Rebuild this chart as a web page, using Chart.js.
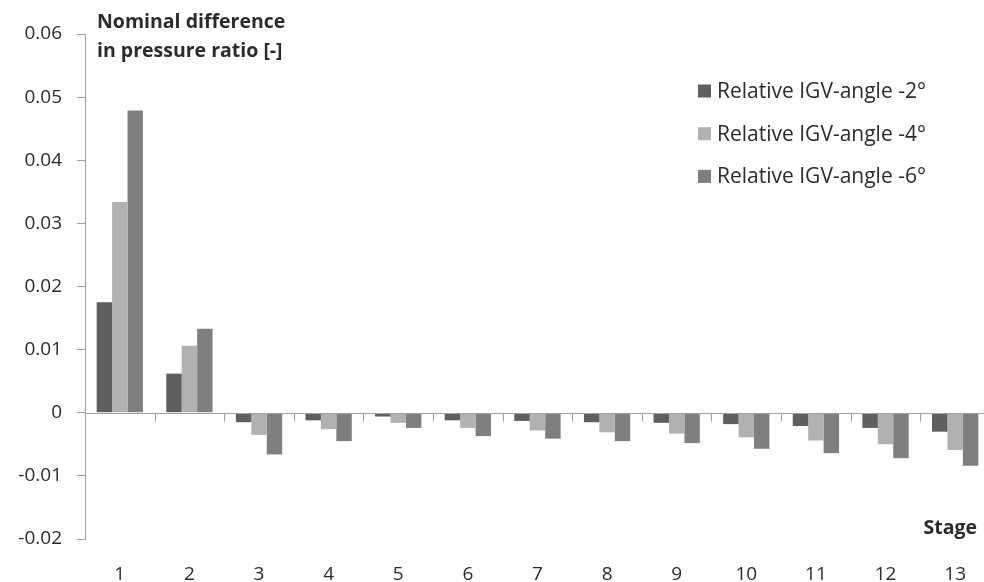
<!DOCTYPE html>
<html lang="en">
<head>
  <meta charset="UTF-8">
  <meta name="viewport" content="width=device-width, initial-scale=1.0">
  <title>IGV angle - pressure ratio per stage</title>
  <style>
    html, body { margin: 0; padding: 0; background: #fff; overflow: hidden; }
    .chart-box { width: 990px; height: 582px; }
  </style>
</head>
<body>

  <div class="chart-box">
    <canvas id="graphic"></canvas>
  </div>

  <!-- ChartJS -->
  <script src="https://cdn.jsdelivr.net/npm/chart.js"></script>

  <script>
    // Stages of the compressor
    const stages = ['1', '2', '3', '4', '5', '6', '7', '8', '9', '10', '11', '12', '13'];

    // Nominal difference in pressure ratio for each relative IGV angle
    const igvMinus2 = [0.0175, 0.0062, -0.0015, -0.0012, -0.0006, -0.0012, -0.0013, -0.0015, -0.0016, -0.0018, -0.0021, -0.0024, -0.0030];
    const igvMinus4 = [0.0334, 0.0106, -0.0035, -0.0026, -0.0016, -0.0024, -0.0028, -0.0031, -0.0033, -0.0039, -0.0044, -0.0050, -0.0059];
    const igvMinus6 = [0.0479, 0.0133, -0.0066, -0.0045, -0.0024, -0.0037, -0.0041, -0.0045, -0.0048, -0.0057, -0.0064, -0.0072, -0.0084];

    const seriesNames = ['Relative IGV-angle -2°', 'Relative IGV-angle -4°', 'Relative IGV-angle -6°'];

    // y axis range
    const yMin = -0.02;
    const yMax = 0.06;
    const yStep = 0.01;

    const yTitle = ['Nominal difference', 'in pressure ratio [-]'];
    const xTitle = 'Stage';

    const fontFamily = '"Open Sans", "Noto Sans", sans-serif';
    const textColor = '#2b2b2b';
    const axisColor = '#a0a0a0';
    const colors = ['#5f5f5f', '#b1b1b1', '#7f7f7f'];

    // zero line with the little ticks between the stages
    const zeroAxis = {
      id: 'zeroAxis',
      afterDatasetsDraw(chart) {
        const { ctx, chartArea, scales: { x, y } } = chart;
        const y0 = Math.round(y.getPixelForValue(0)) + 0.5;
        ctx.save();
        ctx.strokeStyle = axisColor;
        ctx.lineWidth = 1;
        ctx.beginPath();
        ctx.moveTo(chartArea.left, y0);
        ctx.lineTo(chartArea.right, y0);
        for (let i = 0; i < stages.length - 1; i++) {
          const bx = Math.round((x.getPixelForTick(i) + x.getPixelForTick(i + 1)) / 2) + 0.5;
          ctx.moveTo(bx, y0);
          ctx.lineTo(bx, y0 + 8);
        }
        ctx.stroke();
        ctx.restore();
      }
    };

    // axis titles and the legend inside the plot
    const annotations = {
      id: 'annotations',
      afterDraw(chart) {
        const { ctx, chartArea } = chart;
        ctx.save();
        ctx.fillStyle = textColor;
        ctx.textBaseline = 'alphabetic';

        ctx.font = 'bold 19.5px ' + fontFamily;
        ctx.textAlign = 'left';
        ctx.fillText(yTitle[0], chartArea.left + 12, chartArea.top - 6);
        ctx.fillText(yTitle[1], chartArea.left + 12, chartArea.top + 23);

        ctx.textAlign = 'right';
        ctx.fillText(xTitle, chartArea.left + 892, chartArea.bottom - 5);

        // legend
        ctx.font = '21px ' + fontFamily;
        ctx.textAlign = 'left';
        ctx.textBaseline = 'middle';
        chart.data.datasets.forEach((ds, i) => {
          const cy = chartArea.top + 57 + i * 42.7;
          const lx = chartArea.left + 613;
          ctx.fillStyle = ds.backgroundColor;
          ctx.fillRect(lx, cy - 6.5, 13, 13);
          ctx.fillStyle = textColor;
          ctx.fillText(ds.label, lx + 19, cy + 1);
        });
        ctx.restore();
      }
    };

    document.addEventListener('DOMContentLoaded', () => {
      const lienzo = document.getElementById('graphic');

      new Chart(lienzo, {
        type: 'bar',
        data: {
          labels: stages,
          datasets: [
            { label: seriesNames[0], data: igvMinus2, backgroundColor: colors[0] },
            { label: seriesNames[1], data: igvMinus4, backgroundColor: colors[1] },
            { label: seriesNames[2], data: igvMinus6, backgroundColor: colors[2] }
          ]
        },
        options: {
          responsive: true,
          maintainAspectRatio: false,
          animation: false,
          layout: { padding: { top: 34, right: 0, bottom: 0, left: 0 } },
          datasets: {
            bar: { categoryPercentage: 0.665, barPercentage: 1.0, borderWidth: 0 }
          },
          scales: {
            x: {
              afterFit(scale) { scale.height = 43; },
              grid: { display: false, drawTicks: false },
              border: { display: false },
              ticks: {
                color: textColor,
                font: { family: fontFamily, size: 19 },
                padding: 24,
                maxRotation: 0
              }
            },
            y: {
              min: yMin,
              max: yMax,
              afterFit(scale) { scale.width = 85; },
              grid: {
                drawOnChartArea: false,
                drawTicks: true,
                tickLength: 8,
                color: axisColor
              },
              border: { color: axisColor, width: 1 },
              ticks: {
                stepSize: yStep,
                color: textColor,
                font: { family: fontFamily, size: 19 },
                padding: 15,
                callback: (v) => {
                  const n = Number(v.toFixed(4));
                  return n === 0 ? '0' : n.toFixed(2);
                }
              }
            }
          },
          plugins: {
            legend: { display: false },
            tooltip: { enabled: false }
          }
        },
        plugins: [zeroAxis, annotations]
      });
    });
  </script>
</body>
</html>
